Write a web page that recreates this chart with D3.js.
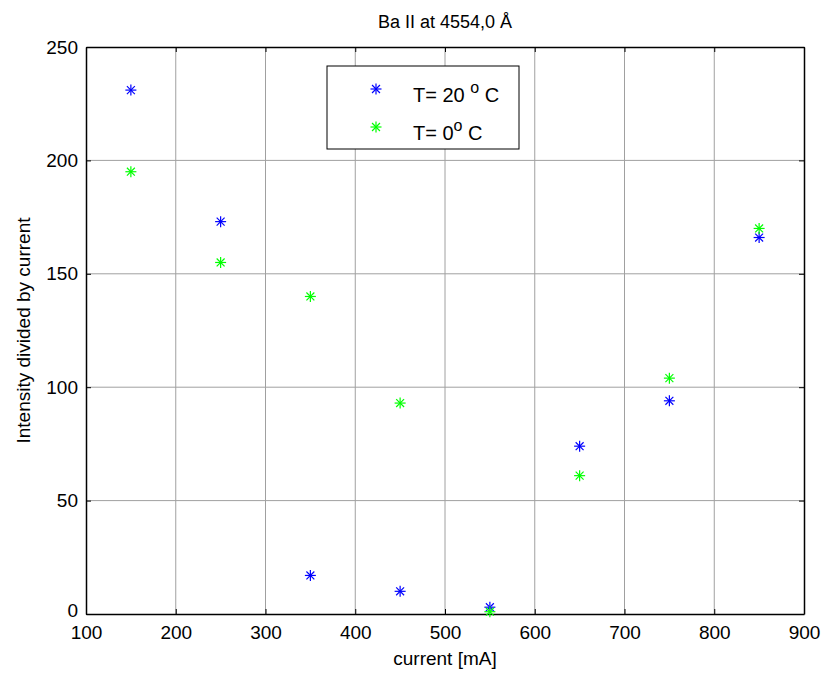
<!DOCTYPE html>
<html>
<head>
<meta charset="utf-8">
<script src="https://cdn.jsdelivr.net/npm/d3@7"></script>
<style>
  body { margin: 0; background: #fff; }
  svg { font-family: "Liberation Sans", Arial, sans-serif; }
</style>
</head>
<body>
<svg id="chart" width="825" height="675"></svg>
<script>
// data
const currents = [150, 250, 350, 450, 550, 650, 750, 850]
const t20 = [231, 173, 17, 10, 3, 74, 94, 166]
const t0 = [195, 155, 140, 93, 1, 61, 104, 170]
const xTicks = [100, 200, 300, 400, 500, 600, 700, 800, 900]
const yTicks = [0, 50, 100, 150, 200, 250]

const margin = { left: 86, right: 21, top: 47, bottom: 61 }
const width = 825, height = 675

let svg = d3.select("#chart")

let x = d3.scaleLinear().domain([100, 900]).range([margin.left, width - margin.right])
let y = d3.scaleLinear().domain([0, 250]).range([height - margin.bottom, margin.top])

// grid
svg.append("g").selectAll("line").data(xTicks.slice(1, -1)).join("line")
    .attr("x1", d => x(d)).attr("x2", d => x(d))
    .attr("y1", y(0)).attr("y2", y(250))
    .attr("stroke", "#a0a0a0").attr("stroke-width", 1)
svg.append("g").selectAll("line").data(yTicks.slice(1, -1)).join("line")
    .attr("x1", x(100)).attr("x2", x(900))
    .attr("y1", d => y(d)).attr("y2", d => y(d))
    .attr("stroke", "#a0a0a0").attr("stroke-width", 1)

// axes, ticks pointing inward
let xAxis = svg.append("g")
    .attr("transform", `translate(0,${y(0)})`)
    .call(d3.axisBottom(x).tickValues(xTicks).tickSizeInner(-5).tickSizeOuter(0).tickPadding(12))
let yAxis = svg.append("g")
    .attr("transform", `translate(${x(100)},0)`)
    .call(d3.axisLeft(y).tickValues(yTicks).tickSizeInner(-5).tickSizeOuter(0).tickPadding(8))
let xTop = svg.append("g")
    .attr("transform", `translate(0,${y(250)})`)
    .call(d3.axisTop(x).tickValues(xTicks).tickSizeInner(-5).tickSizeOuter(0).tickFormat(""))
let yRight = svg.append("g")
    .attr("transform", `translate(${x(900)},0)`)
    .call(d3.axisRight(y).tickValues(yTicks).tickSizeInner(-5).tickSizeOuter(0).tickFormat(""))

for (let a of [xAxis, yAxis, xTop, yRight]) {
    a.selectAll("path").attr("stroke", "#000").attr("stroke-width", 1.5)
    a.selectAll("line").attr("stroke", "#000")
    a.selectAll("text").attr("fill", "#000").style("font-size", "19px").style("font-family", "Liberation Sans, Arial, sans-serif")
}
// lift the "0" a little so it clears the "100" below it
yAxis.selectAll(".tick text").filter(d => d === 0).attr("dy", "0.15em")

// asterisk marker
function star(g, cx, cy, color, r) {
    let s = g.append("g").attr("transform", `translate(${cx},${cy})`).attr("stroke", color).attr("stroke-width", 1.2)
    s.append("line").attr("x1", -r).attr("x2", r).attr("y1", 0).attr("y2", 0)
    s.append("line").attr("x1", 0).attr("x2", 0).attr("y1", -r).attr("y2", r)
    let d = r * 0.72
    s.append("line").attr("x1", -d).attr("x2", d).attr("y1", -d).attr("y2", d)
    s.append("line").attr("x1", -d).attr("x2", d).attr("y1", d).attr("y2", -d)
}

let marks = svg.append("g")
currents.forEach((c, i) => star(marks, x(c), y(t20[i]), "#0000ff", 5.5))
currents.forEach((c, i) => star(marks, x(c), y(t0[i]), "#00ff00", 5.5))

// title and labels
svg.append("text").attr("x", x(500)).attr("y", 28).attr("text-anchor", "middle")
    .style("font-size", "18px").text("Ba II at 4554,0 Å")
svg.append("text").attr("x", x(500)).attr("y", 665).attr("text-anchor", "middle")
    .style("font-size", "19px").text("current [mA]")
svg.append("text").attr("transform", `translate(30,${(y(0) + y(250)) / 2}) rotate(-90)`)
    .attr("text-anchor", "middle").style("font-size", "19px").text("Intensity divided by current")

// legend
let legend = svg.append("g")
legend.append("rect").attr("x", 327).attr("y", 66).attr("width", 192).attr("height", 83)
    .attr("fill", "#fff").attr("stroke", "#000").attr("stroke-width", 1)
star(legend, 376, 89, "#0000ff", 5.5)
star(legend, 376, 127, "#00ff00", 5.5)
let l1 = legend.append("text").attr("x", 413).attr("y", 102).style("font-size", "20px")
l1.append("tspan").text("T= 20 ")
l1.append("tspan").attr("dy", -9).style("font-size", "16px").text("o")
l1.append("tspan").attr("dy", 9).text(" C")
let l2 = legend.append("text").attr("x", 413).attr("y", 140).style("font-size", "20px")
l2.append("tspan").text("T= 0")
l2.append("tspan").attr("dy", -9).style("font-size", "16px").text("o")
l2.append("tspan").attr("dy", 9).text(" C")
</script>
</body>
</html>
